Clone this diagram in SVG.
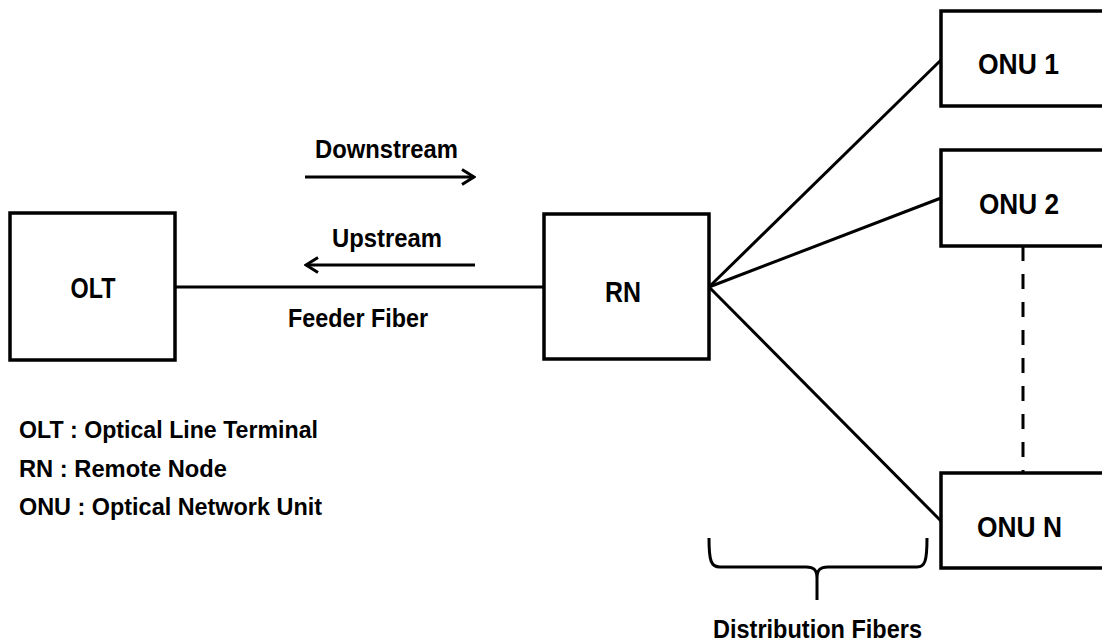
<svg xmlns="http://www.w3.org/2000/svg" width="1102" height="644" viewBox="0 0 1102 644">
<style>
.box{fill:#fff;stroke:#000;stroke-width:3.5}
.ln{fill:none;stroke:#000;stroke-width:3}
.lbl{font-family:"Liberation Sans",Arial,sans-serif;font-weight:bold;fill:#000}
.node{font-size:29px}
.small{font-size:26px}
.leg{font-size:24px}
</style>
<defs>
<marker id="chev" viewBox="0 0 16 18" refX="14" refY="9" markerWidth="16" markerHeight="18" orient="auto" markerUnits="userSpaceOnUse">
<path d="M2,1.5 L14,9 L2,16.5" fill="none" stroke="#000" stroke-width="3"/>
</marker>
</defs>
<rect width="1102" height="644" fill="#fff"/>
<g id="connectors">
<line class="ln" x1="175" y1="287" x2="544" y2="287"/>
<line class="ln" x1="709" y1="287" x2="941" y2="60"/>
<line class="ln" x1="709" y1="287" x2="941" y2="198"/>
<line class="ln" x1="709" y1="287" x2="941" y2="521"/>
<line class="ln" x1="1023" y1="246" x2="1023" y2="473" stroke-dasharray="15 13"/>
<line class="ln" x1="305" y1="177" x2="474" y2="177" marker-end="url(#chev)"/>
<line class="ln" x1="475" y1="265" x2="306" y2="265" marker-end="url(#chev)"/>
</g>
<g id="olt">
<rect class="box" x="10" y="213" width="165" height="147"/>
<text class="lbl node" x="93" y="298" text-anchor="middle" textLength="45" lengthAdjust="spacingAndGlyphs">OLT</text>
</g>
<g id="rn">
<rect class="box" x="544" y="214" width="165" height="145"/>
<text class="lbl node" x="623" y="302" text-anchor="middle" textLength="36" lengthAdjust="spacingAndGlyphs">RN</text>
</g>
<g id="onu1">
<rect class="box" x="941" y="11" width="200" height="95"/>
<text class="lbl node" x="978" y="74" textLength="81" lengthAdjust="spacingAndGlyphs">ONU 1</text>
</g>
<g id="onu2">
<rect class="box" x="941" y="150" width="200" height="96"/>
<text class="lbl node" x="979" y="214" textLength="80" lengthAdjust="spacingAndGlyphs">ONU 2</text>
</g>
<g id="onun">
<rect class="box" x="941" y="473" width="200" height="95"/>
<text class="lbl node" x="977" y="537" textLength="85" lengthAdjust="spacingAndGlyphs">ONU N</text>
</g>
<g id="labels">
<text class="lbl small" x="315" y="158" textLength="143" lengthAdjust="spacingAndGlyphs">Downstream</text>
<text class="lbl small" x="332" y="247" textLength="110" lengthAdjust="spacingAndGlyphs">Upstream</text>
<text class="lbl small" x="288" y="327" textLength="140" lengthAdjust="spacingAndGlyphs">Feeder Fiber</text>
<text class="lbl small" x="713" y="638" textLength="209" lengthAdjust="spacingAndGlyphs">Distribution Fibers</text>
</g>
<g id="legend">
<text class="lbl leg" x="19" y="438" textLength="299" lengthAdjust="spacingAndGlyphs">OLT : Optical Line Terminal</text>
<text class="lbl leg" x="19" y="477" textLength="208" lengthAdjust="spacingAndGlyphs">RN : Remote Node</text>
<text class="lbl leg" x="19" y="515" textLength="303" lengthAdjust="spacingAndGlyphs">ONU : Optical Network Unit</text>
</g>
<g id="bracket">
<path class="ln" d="M709,538 C709,561 711,567 720,567 L806,567 C814,567 817,570 817,578 L817,600 M817,578 C817,570 820,567 828,567 L917,567 C925,567 927,561 927,538"/>
</g>
</svg>
